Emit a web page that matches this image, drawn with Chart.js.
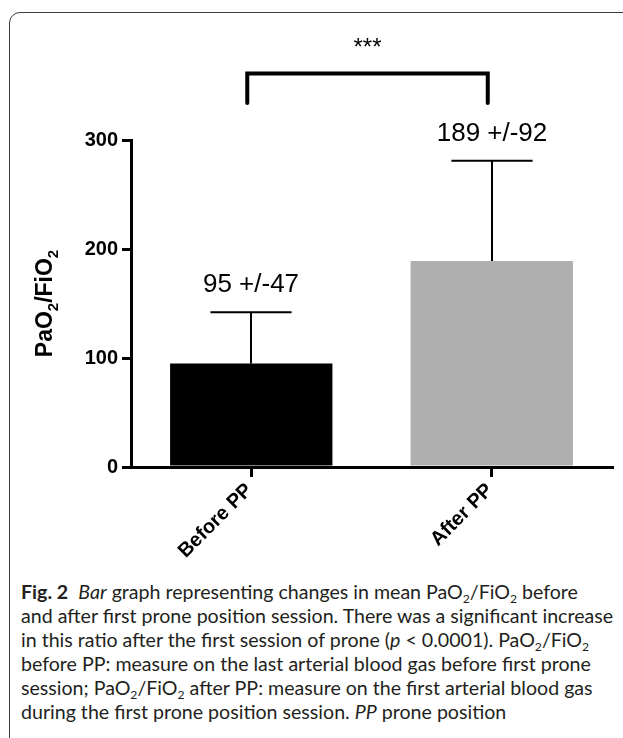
<!DOCTYPE html>
<html>
<head>
<meta charset="utf-8">
<script src="https://cdn.jsdelivr.net/npm/chart.js@4.4.1/dist/chart.umd.min.js"></script>
<style>
  html, body { margin: 0; padding: 0; background: #fff; }
  body { width: 623px; height: 738px; position: relative; overflow: hidden; }
  #frame {
    position: absolute; left: 9px; top: 12px; width: 700px; height: 800px;
    border: 1px solid #3a3a3a; border-top-left-radius: 11px;
  }
  #chartBox { position: absolute; left: 0; top: 0; width: 623px; height: 560px; }
  #caption {
    position: absolute; left: 21px; top: 580px; width: 600px;
    font-family: Lato, 'Open Sans', sans-serif; font-size: 19.6px; line-height: 24px;
    color: #231f20; white-space: nowrap;
  }
  #caption sub { font-size: 0.62em; vertical-align: -0.3em; line-height: 0; }
  #caption b { font-weight: 700; }
</style>
</head>
<body>
<div id="frame"></div>
<div id="chartBox"><canvas id="chart" width="623" height="560"></canvas></div>
<div id="caption">
  <div><b>Fig. 2</b>&nbsp; <i>Bar</i> graph representing changes in mean PaO<sub>2</sub>/FiO<sub>2</sub> before</div>
  <div>and after first prone position session. There was a significant increase</div>
  <div>in this ratio after the first session of prone (<i>p</i> &lt; 0.0001). PaO<sub>2</sub>/FiO<sub>2</sub></div>
  <div>before PP: measure on the last arterial blood gas before first prone</div>
  <div>session; PaO<sub>2</sub>/FiO<sub>2</sub> after PP: measure on the first arterial blood gas</div>
  <div>during the first prone position session. <i>PP</i> prone position</div>
</div>
<script>
// PaO2/FiO2 before / after first prone session

var categories = ['Before PP', 'After PP'];
var meanValues = [95, 189];
var sdValues = [47, 92];
var barColors = ['#000000', '#afafaf'];
var yTicks = [0, 100, 200, 300];
var sigLabel = '***';
var sigBracket = [334, 361]; // bracket foot / top, in y-axis units
var sigTextValue = 378;

var FONT = "'Liberation Sans', Arial, sans-serif";

var annotatePlugin = {
  id: 'annotate',
  afterDatasetsDraw: function(chart) {
    var ctx = chart.ctx;
    var y = chart.scales.y;
    var x = chart.scales.x;
    var meta = chart.getDatasetMeta(0);
    ctx.save();

    // error bars (upper only) + value labels
    for (var i = 0; i < meta.data.length; i++) {
      var bar = meta.data[i];
      var cx = Math.round(bar.x);
      var yBase = y.getPixelForValue(meanValues[i]);
      var yTop = y.getPixelForValue(meanValues[i] + sdValues[i]);
      var half = bar.width / 4;
      ctx.strokeStyle = '#000';
      ctx.lineWidth = 2;
      ctx.beginPath();
      ctx.moveTo(cx, yBase);
      ctx.lineTo(cx, yTop);
      ctx.moveTo(cx - half, yTop);
      ctx.lineTo(cx + half, yTop);
      ctx.stroke();

      ctx.fillStyle = '#000';
      ctx.font = '26px ' + FONT;
      ctx.textAlign = 'center';
      ctx.textBaseline = 'alphabetic';
      ctx.fillText(meanValues[i] + ' +/-' + sdValues[i], cx, yTop - 20);
    }

    // significance bracket
    var x0 = x.getPixelForValue(0) - 4;
    var x1 = x.getPixelForValue(1) - 4;
    var yFoot = y.getPixelForValue(sigBracket[0]);
    var yBar = y.getPixelForValue(sigBracket[1]);
    ctx.lineWidth = 4;
    ctx.lineJoin = 'miter';
    ctx.lineCap = 'round';
    ctx.beginPath();
    ctx.moveTo(x0, yFoot);
    ctx.lineTo(x0, yBar);
    ctx.lineTo(x1, yBar);
    ctx.lineTo(x1, yFoot);
    ctx.stroke();
    ctx.font = '24px ' + FONT;
    ctx.textAlign = 'center';
    ctx.fillText(sigLabel, (x0 + x1) / 2, y.getPixelForValue(sigTextValue));

    // rotated category labels
    ctx.font = 'bold 20px ' + FONT;
    ctx.textAlign = 'right';
    for (var j = 0; j < categories.length; j++) {
      ctx.save();
      ctx.translate(x.getPixelForValue(j) + 2, x.top + 24);
      ctx.rotate(-Math.PI / 4);
      ctx.fillText(categories[j], 0, 0);
      ctx.restore();
    }

    // y axis title with subscripts
    var area = chart.chartArea;
    ctx.translate(area.left - 79, (area.top + area.bottom) / 2);
    ctx.rotate(-Math.PI / 2);
    var parts = [['PaO', false], ['2', true], ['/FiO', false], ['2', true]];
    var bigFont = 'bold 23px ' + FONT;
    var subFont = 'bold 15px ' + FONT;
    var total = 0;
    parts.forEach(function(p) {
      ctx.font = p[1] ? subFont : bigFont;
      total += ctx.measureText(p[0]).width;
    });
    var pos = -total / 2;
    ctx.textAlign = 'left';
    parts.forEach(function(p) {
      ctx.font = p[1] ? subFont : bigFont;
      ctx.fillText(p[0], pos, p[1] ? 6 : 0);
      pos += ctx.measureText(p[0]).width;
    });
    ctx.restore();
  }
};

var canvas = document.getElementById('chart');
new Chart(canvas, {
  type: 'bar',
  data: {
    labels: categories,
    datasets: [{
      data: meanValues,
      backgroundColor: barColors,
      borderWidth: 0,
      categoryPercentage: 1,
      barPercentage: 0.675
    }]
  },
  options: {
    responsive: false,
    animation: false,
    layout: { padding: { top: 140, right: 11, left: 0, bottom: 0 } },
    plugins: { legend: { display: false }, tooltip: { enabled: false } },
    scales: {
      x: {
        offset: true,
        afterFit: function(scale) { scale.height = 93; },
        border: { display: true, color: '#000', width: 3 },
        grid: { offset: false, drawOnChartArea: false, color: '#000', lineWidth: 3, tickLength: 10 },
        ticks: { display: false }
      },
      y: {
        min: 0,
        max: 300,
        afterFit: function(scale) { scale.width = 131; },
        afterBuildTicks: function(scale) {
          scale.ticks = yTicks.map(function(v) { return { value: v }; });
        },
        border: { display: true, color: '#000', width: 3 },
        grid: { drawOnChartArea: false, color: '#000', lineWidth: 3, tickLength: 9 },
        ticks: { color: '#000', font: { family: FONT, size: 20, weight: 'bold' }, padding: 4 }
      }
    }
  },
  plugins: [annotatePlugin]
});
</script>
</body>
</html>
